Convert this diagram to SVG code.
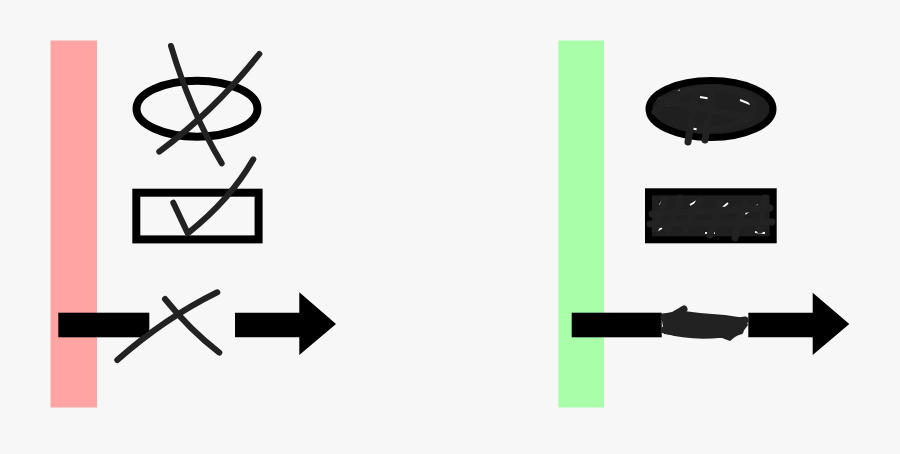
<svg xmlns="http://www.w3.org/2000/svg" width="900" height="454" viewBox="0 0 900 454">
<style>
.shape{fill:none;stroke:#000;stroke-width:8}
.strike{fill:none;stroke:#222;stroke-width:6;stroke-linecap:round;stroke-linejoin:round}
.scrib{fill:none;stroke:#222;stroke-width:7;stroke-linecap:round;stroke-linejoin:round}
.arrow{fill:#000}
</style>
<rect width="900" height="454" fill="#f7f7f7"/>
<g id="wrong">
  <rect x="50.5" y="40.5" width="46.5" height="367" fill="#ffa3a3"/>
  <ellipse class="shape" cx="197" cy="108.7" rx="60.5" ry="28"/>
  <rect class="shape" x="136.3" y="192.7" width="122.3" height="46.7"/>
  <path class="strike" d="M171,46 Q190,110 221.7,163.3"/>
  <path class="strike" d="M259.3,54 Q215,110 159.3,151.7"/>
  <path class="strike" d="M173.3,202.7 L187.7,233.3 Q230,200 253.3,159.3"/>
  <rect class="arrow" x="58.3" y="312.7" width="91" height="24.6"/>
  <path class="arrow" d="M235,312.7 H299.3 V292.3 L336,324 L299.3,355 V337.3 H235 Z"/>
  <path class="strike" d="M117.3,360 Q165,318 217.3,292.3"/>
  <path class="strike" d="M165,299 Q190,330 219.3,352.7"/>
</g>
<g id="right">
  <rect x="558.3" y="40.5" width="45.7" height="367" fill="#a9ffa9"/>
  <ellipse cx="711" cy="109" rx="62" ry="28.5" fill="#1f1f1f" stroke="#000" stroke-width="7"/>
  <path d="M668,105 L680,90 M700,97 L712,99 M740,100 L750,104 M735,123 L748,120 M690,128 L700,130" stroke="#f7f7f7" stroke-width="2" fill="none"/>
  <path class="scrib" d="M655,112 Q680,85 720,88 Q752,92 755,108 Q745,128 700,130 M688,142 L695,95 M705,140 L712,92 M660,100 L750,118"/>
  <rect x="648.5" y="191.8" width="124.7" height="48" fill="#1f1f1f" stroke="#000" stroke-width="7"/>
  <path d="M660,205 L664,198 M690,205 L700,199 M720,210 L728,203 M745,214 L758,205 M705,233 L715,233 M655,232 L662,228 M755,232 L765,233" stroke="#f7f7f7" stroke-width="2" fill="none"/>
  <path class="scrib" d="M652,214 L770,208 M655,230 L665,200 M668,232 L680,198 M685,230 L700,200 M710,235 L720,202 M735,238 L745,202 M760,230 L765,198 M650,224 L772,222"/>
  <rect class="arrow" x="571.7" y="312.7" width="90" height="24.6"/>
  <path d="M661,314 L672,312 L678,309 L684,311 L700,313 L725,315 L745,318 L748,325 L742,333 L735,337 L730,341 L722,338 L700,338 L680,336 L664,334 Z" fill="#222"/>
  <path class="scrib" d="M664,317 L744,322 M664,330 Q700,340 740,331 M676,314 L684,309 M700,328 L745,320"/>
  <path class="arrow" d="M748.3,312.7 H812.7 V292.7 L849.3,324 L812.7,355 V337.3 H748.3 Z"/>
</g>
</svg>
